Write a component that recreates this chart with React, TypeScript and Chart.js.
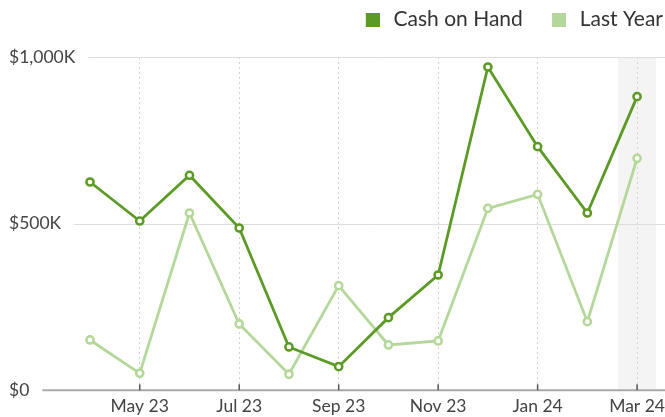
import React, { useEffect, useRef } from 'react';
import { Chart, registerables } from 'chart.js';

Chart.register(...registerables);

const months = ['Apr 23', 'May 23', 'Jun 23', 'Jul 23', 'Aug 23', 'Sep 23', 'Oct 23', 'Nov 23', 'Dec 23', 'Jan 24', 'Feb 24', 'Mar 24'];
const cashOnHand = [625, 508, 645, 487, 130, 71, 218, 346, 970, 731, 532, 881];
const lastYear = [151, 51, 532, 199, 48, 314, 136, 148, 546, 588, 206, 696];
const seriesNames = ['Cash on Hand', 'Last Year'];
const yMin = 0;
const yMax = 1000;
const yStep = 500;
const highlightIndex = 11;

const DARK = '#5c9a26';
const LIGHT = '#b4d79b';
const FONT = 'Lato, "Noto Sans", sans-serif';
const TICK_SIZE = 17.5;
const LEGEND_SIZE = 21;

const formatY = (v: number) => (v === 0 ? '$0' : '$' + v.toLocaleString('en-US') + 'K');

function makeMarker(color: string) {
  const c = document.createElement('canvas');
  c.width = 38;
  c.height = 14;
  const g = c.getContext('2d')!;
  g.fillStyle = color;
  g.fillRect(24, 0, 14, 14);
  return c;
}

const customPlugin = {
  id: 'customDecor',
  beforeDraw(chart: any) {
    const { ctx, chartArea, scales } = chart;
    const x = scales.x.getPixelForValue(highlightIndex);
    ctx.save();
    ctx.fillStyle = '#f4f4f4';
    ctx.fillRect(x - 19, chartArea.top, 38, chartArea.bottom - chartArea.top);
    ctx.restore();
  },
  beforeDatasetsDraw(chart: any) {
    const { ctx, scales, width } = chart;
    const ys = scales.y;
    const xs = scales.x;
    ctx.save();
    ctx.font = `${TICK_SIZE}px ${FONT}`;
    ys.ticks.forEach((t: any) => {
      const label = formatY(t.value);
      const w = ctx.measureText(label).width;
      const start = ys.left + w + 13;
      const py = ys.getPixelForValue(t.value);
      ctx.beginPath();
      if (t.value === 0) {
        ctx.strokeStyle = '#aaaaaa';
        ctx.lineWidth = 2;
        ctx.moveTo(start, py);
        ctx.lineTo(width, py);
      } else {
        ctx.strokeStyle = '#dedede';
        ctx.lineWidth = 1;
        const yy = Math.round(py) + 0.5;
        ctx.moveTo(start, yy);
        ctx.lineTo(width, yy);
      }
      ctx.stroke();
    });
    // short tick marks rising from the baseline at labelled months
    const base = ys.getPixelForValue(0);
    ctx.strokeStyle = '#555555';
    ctx.lineWidth = 1.5;
    months.forEach((_m, i) => {
      if (i % 2 !== 1) return;
      const px = xs.getPixelForValue(i);
      ctx.beginPath();
      ctx.moveTo(px, base - 6);
      ctx.lineTo(px, base);
      ctx.stroke();
    });
    ctx.restore();
  },
};

export default function App() {
  const canvasRef = useRef<HTMLCanvasElement>(null);

  useEffect(() => {
    const markers = [makeMarker(DARK), makeMarker(LIGHT)];
    const chart = new Chart(canvasRef.current!, {
      type: 'line',
      data: {
        labels: months,
        datasets: [
          {
            label: seriesNames[0],
            data: cashOnHand,
            borderColor: DARK,
            backgroundColor: DARK,
            borderWidth: 2.8,
            pointRadius: 3.6,
            pointBorderWidth: 2.5,
            pointBackgroundColor: '#ffffff',
            pointBorderColor: DARK,
            tension: 0,
            clip: false,
          },
          {
            label: seriesNames[1],
            data: lastYear,
            borderColor: LIGHT,
            backgroundColor: LIGHT,
            borderWidth: 2.8,
            pointRadius: 3.6,
            pointBorderWidth: 2.5,
            pointBackgroundColor: '#ffffff',
            pointBorderColor: LIGHT,
            tension: 0,
            clip: false,
          },
        ],
      },
      options: {
        animation: false,
        responsive: true,
        maintainAspectRatio: false,
        layout: { padding: { top: 7, left: 9, right: 0, bottom: 0 } },
        plugins: {
          legend: {
            position: 'top',
            align: 'end',
            weight: 3000,
            labels: {
              usePointStyle: true,
              pointStyleWidth: 44.5,
              boxHeight: 14,
              padding: 2,
              color: '#333333',
              font: { family: FONT, size: LEGEND_SIZE },
              generateLabels: (ch: any) => {
                const items = (Chart.defaults.plugins.legend.labels as any).generateLabels(ch);
                items.forEach((it: any, i: number) => {
                  it.pointStyle = markers[i];
                  it.fontColor = '#333333';
                });
                return items;
              },
            },
          } as any,
          title: {
            display: true,
            text: '',
            weight: 500,
            font: { size: 10 },
            padding: { top: 0, bottom: 5 },
          } as any,
          tooltip: { enabled: false },
        },
        scales: {
          x: {
            type: 'category',
            offset: false,
            grid: {
              display: true,
              drawOnChartArea: true,
              color: (c: any) => (c.index % 2 === 1 ? '#d2d2d2' : 'rgba(0,0,0,0)'),
              lineWidth: 1,
              drawTicks: true,
              tickLength: 6,
              tickColor: 'rgba(0,0,0,0)',
            },
            border: { display: false, dash: [2, 3] },
            ticks: {
              autoSkip: false,
              maxRotation: 0,
              padding: 0,
              color: '#444444',
              font: { family: FONT, size: TICK_SIZE },
              callback: (_v: any, i: number) => (i % 2 === 1 ? months[i] : ''),
            },
            afterFit: (s: any) => {
              s.height = 26.7;
            },
          },
          y: {
            min: yMin,
            max: yMax,
            grid: { display: false },
            border: { display: false },
            ticks: {
              stepSize: yStep,
              crossAlign: 'far',
              padding: 0,
              color: '#444444',
              font: { family: FONT, size: TICK_SIZE },
              callback: (v: any) => formatY(Number(v)),
            },
            afterFit: (s: any) => {
              s.width = 81;
            },
          },
        },
      },
      plugins: [customPlugin],
    });
    return () => chart.destroy();
  }, []);

  return (
    <div style={{ position: 'absolute', left: 0, top: 0, width: 665, height: 417 }}>
      <canvas ref={canvasRef} />
    </div>
  );
}
